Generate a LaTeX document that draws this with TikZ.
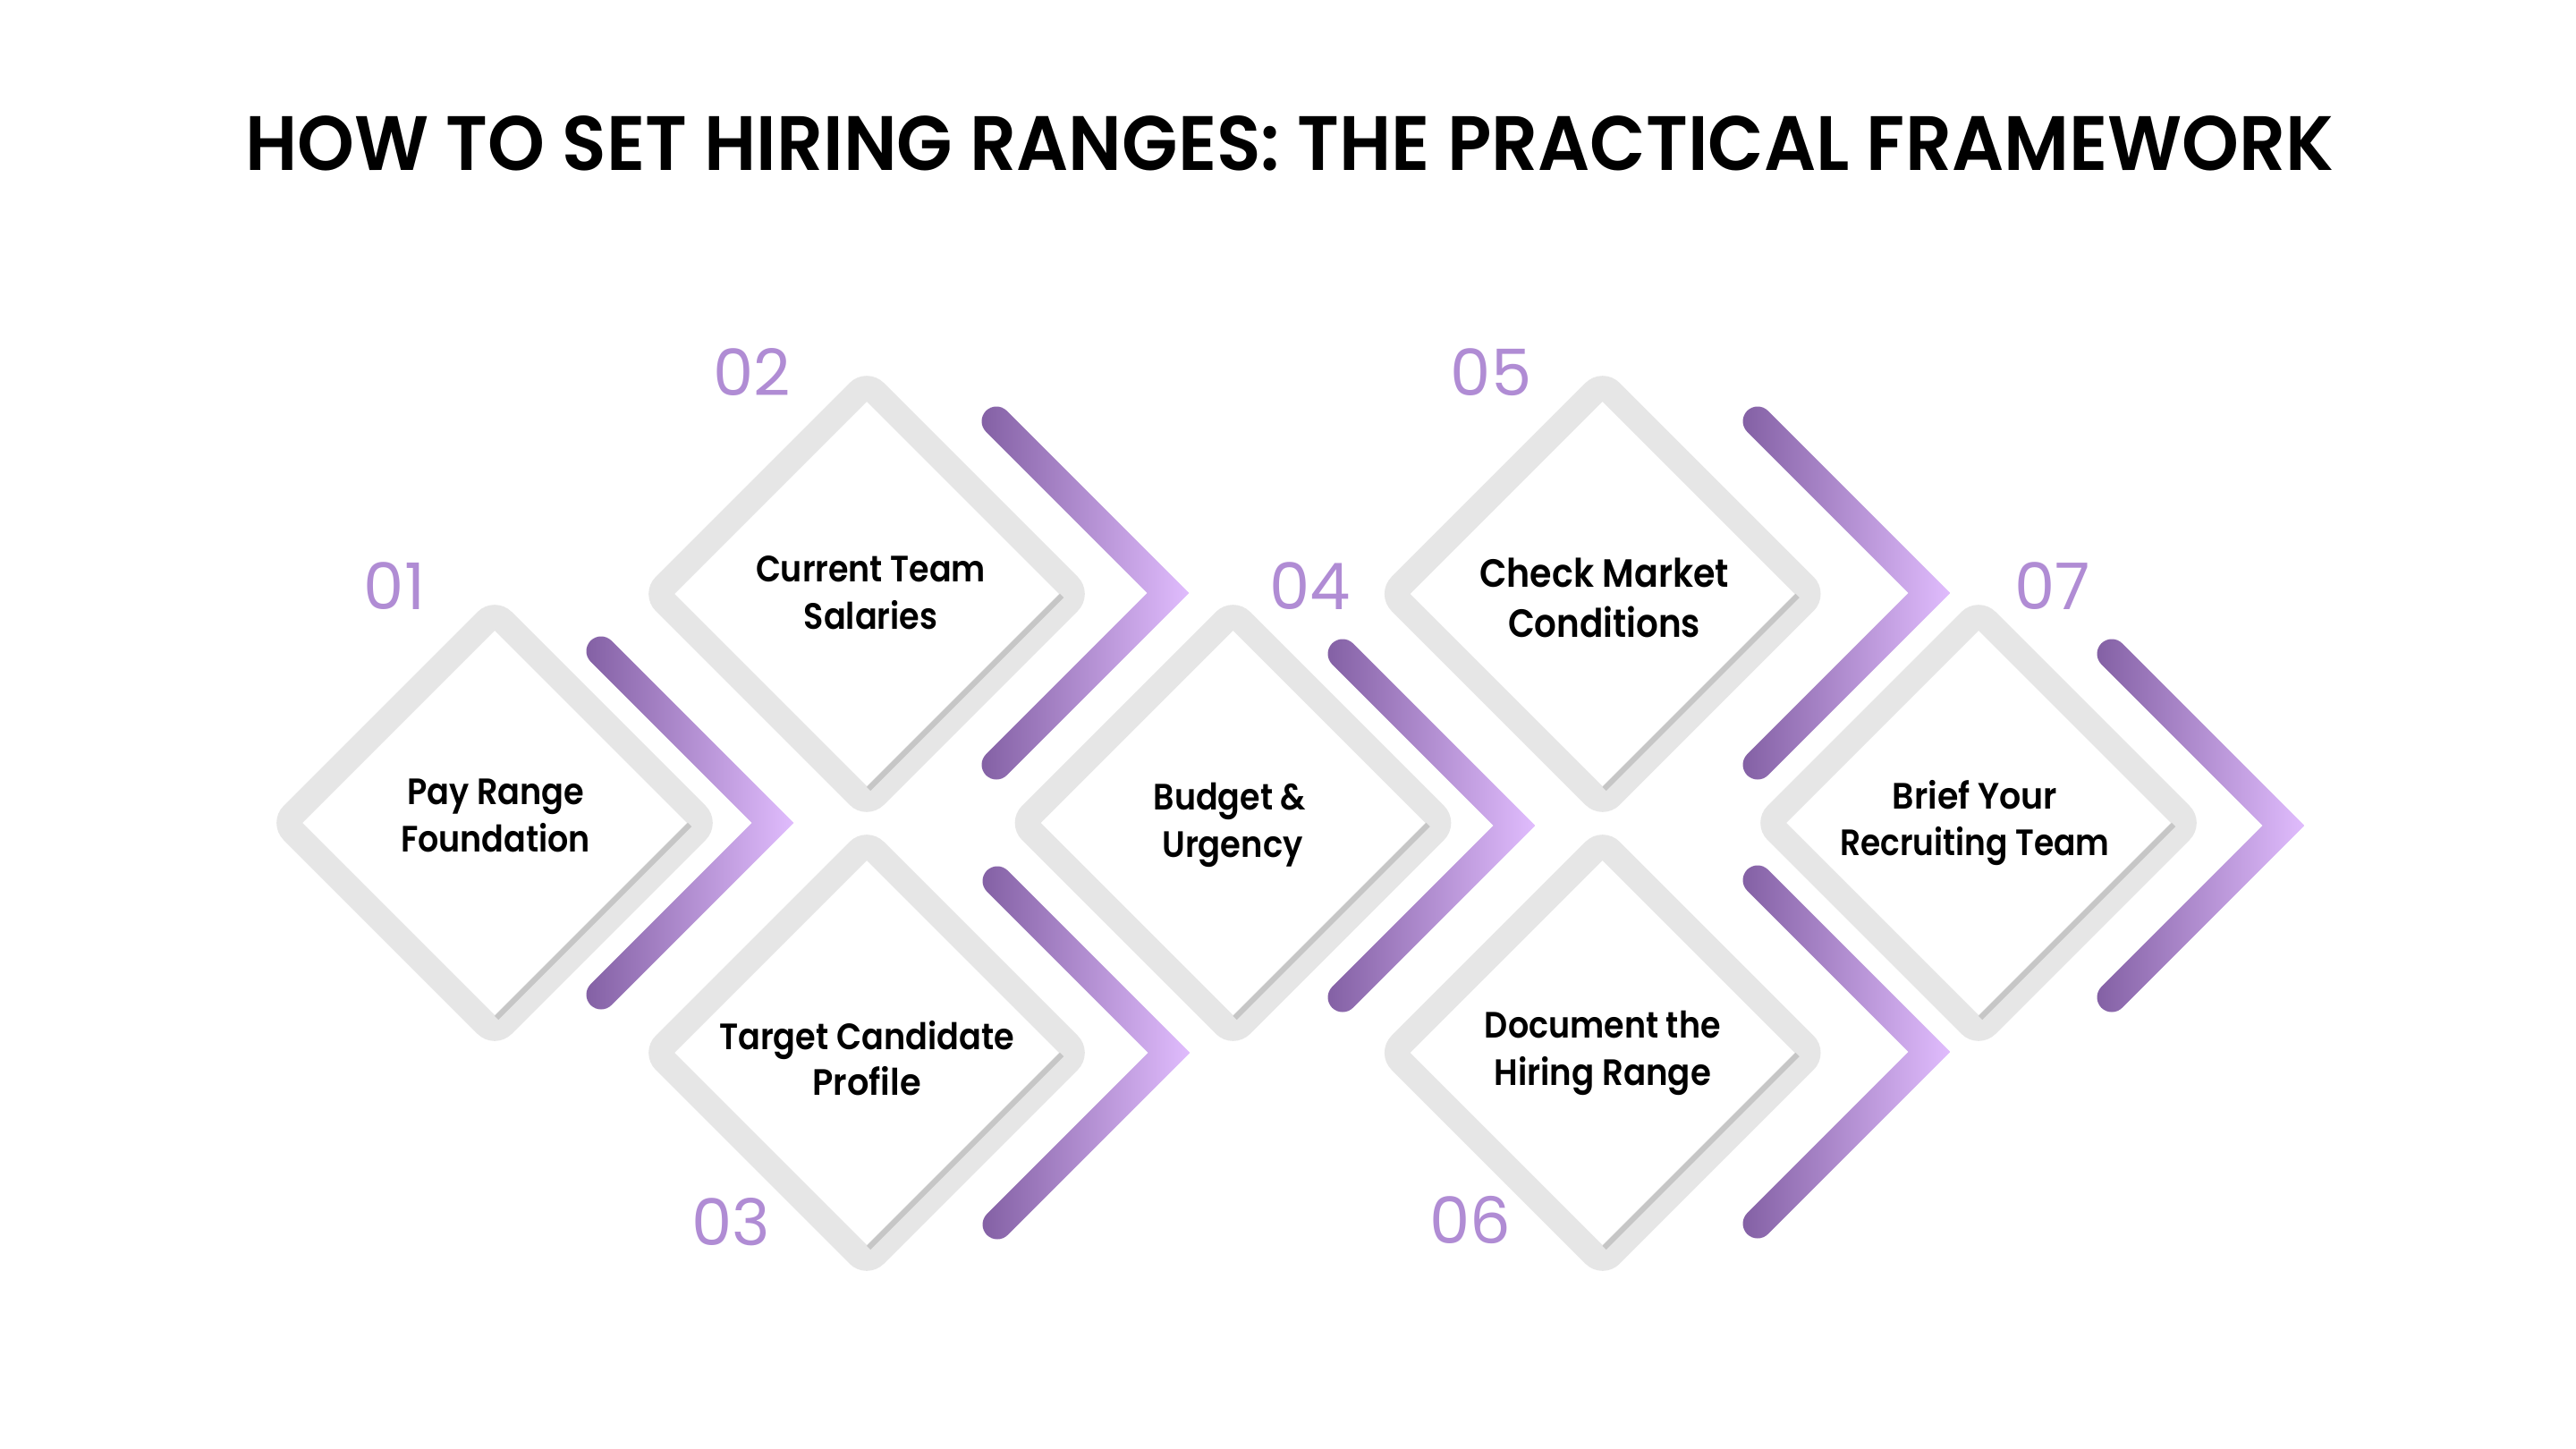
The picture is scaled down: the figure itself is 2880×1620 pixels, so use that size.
\documentclass[tikz,border=0pt]{standalone}
\usepackage{fontspec}
\usepackage{graphicx}
\usetikzlibrary{calc}
\setmainfont{Poppins}
\IfFontExistsTF{Poppins SemiBold}{\newfontfamily\lblfont{Poppins SemiBold}}{\newfontfamily\lblfont{Poppins}[FakeBold=0.6]}
\IfFontExistsTF{Poppins SemiBold}{\newfontfamily\ttlfont{Poppins SemiBold}}{\newcommand\ttlfont{\bfseries}}
\newfontfamily\numfont{Poppins}
\definecolor{bandgray}{HTML}{E6E6E6}
\definecolor{shadgray}{HTML}{C6C6C6}
\definecolor{chevL}{HTML}{8360A4}
\definecolor{chevR}{HTML}{E0BCFD}
\definecolor{numc}{HTML}{B08CD4}
\tikzset{
  band/.style={fill=bandgray, even odd rule},
  shadowline/.style={draw=shadgray, line width=3pt, line cap=butt},
  chevron/.style={left color=chevL, right color=chevR},
  lbl/.style={font=\lblfont\fontsize{20.5}{24}\selectfont, anchor=base, inner sep=0pt, text=black},
  lblbig/.style={font=\lblfont\fontsize{22}{26}\selectfont, anchor=base, inner sep=0pt, text=black},
  num/.style={font=\numfont\fontsize{36}{40}\selectfont, anchor=base, inner sep=0pt, text=numc},
  ttl/.style={anchor=base west, inner sep=0pt, text=black}
}
\newcommand{\Diamd}[1]{%
  \fill[band, rounded corners=13.5pt]
    ($(#1)+(127.5,127.5)$) -- ($(#1)+(255,0)$) -- ($(#1)+(0,-255)$) -- ($(#1)+(-255,0)$) -- ($(#1)+(0,255)$) -- cycle
    [sharp corners] ($(#1)+(0,215)$) -- ($(#1)+(215,0)$) -- ($(#1)+(0,-215)$) -- ($(#1)+(-215,0)$) -- cycle;
  \draw[shadowline] ($(#1)+(218,-2)$) -- ($(#1)+(2,-218)$);
}
\newcommand{\Chev}[1]{%
  \shade[chevron] ($(#1)+(-180.33,203.67)$) -- ($(#1)+(23.33,0)$) -- ($(#1)+(-180.33,-203.67)$)
    arc[start angle=-45, end angle=-225, radius=16.5]
    -- ($(#1)+(-23.33,0)$) -- ($(#1)+(-203.67,180.33)$)
    arc[start angle=-135, end angle=-315, radius=16.5] -- cycle;
}
\begin{document}
\begin{tikzpicture}[x=0.5pt, y=0.5pt]
  \fill[white] (0,0) rectangle (2880,-1620);
  \useasboundingbox (0,0) rectangle (2880,-1620);

  % diamond centres
  \coordinate (d1) at (553,-920);
  \coordinate (d2) at (969,-664);
  \coordinate (d3) at (969,-1177);
  \coordinate (d4) at (1378.5,-920);
  \coordinate (d5) at (1791.7,-664);
  \coordinate (d6) at (1791.7,-1177);
  \coordinate (d7) at (2212,-920);
  % chevron tips
  \coordinate (c1) at (864,-920);
  \coordinate (c2) at (1306,-663);
  \coordinate (c3) at (1307,-1177);
  \coordinate (c4) at (1693,-923);
  \coordinate (c5) at (2157,-663);
  \coordinate (c6) at (2157,-1176);
  \coordinate (c7) at (2553,-923);

  \Diamd{d1}\Diamd{d2}\Diamd{d3}\Diamd{d4}\Diamd{d5}\Diamd{d6}\Diamd{d7}
  \Chev{c1}\Chev{c2}\Chev{c3}\Chev{c4}\Chev{c5}\Chev{c6}\Chev{c7}

  % title
  \node[ttl] (title) at (273.8,-190.8) {\resizebox{1167.5pt}{30.5pt}{\ttlfont HOW TO SET HIRING RANGES: THE PRACTICAL FRAMEWORK}};

  % numbers
  \node[num] (n1) at (441,-681) {01};
  \node[num] (n2) at (841,-443) {02};
  \node[num] (n3) at (817,-1392) {03};
  \node[num] (n4) at (1465,-681) {04};
  \node[num] (n5) at (1667,-443) {05};
  \node[num] (n6) at (1643.5,-1390) {06};
  \node[num] (n7) at (2295,-681) {07};

  % labels
  \node[lbl] (l1a) at (554,-899.5) {\resizebox{99pt}{\height}{Pay Range}};
  \node[lbl] (l1b) at (554,-952) {\resizebox{106pt}{\height}{Foundation}};
  \node[lbl] (l2a) at (973.5,-650.4) {\resizebox{128.5pt}{\height}{Current Team}};
  \node[lbl] (l2b) at (973.5,-703.2) {\resizebox{74.7pt}{\height}{Salaries}};
  \node[lbl] (l3a) at (969,-1173.1) {\resizebox{164.8pt}{\height}{Target Candidate}};
  \node[lbl] (l3b) at (969,-1224.7) {\resizebox{60.7pt}{\height}{Profile}};
  \node[lbl] (l4a) at (1375,-905.3) {\resizebox{85.2pt}{\height}{Budget \&}};
  \node[lbl] (l4b) at (1378,-958.4) {\resizebox{78.7pt}{\height}{Urgency}};
  \node[lblbig] (l5a) at (1793.6,-656.9) {\resizebox{139.3pt}{\height}{Check Market}};
  \node[lblbig] (l5b) at (1793.6,-712.9) {\resizebox{107.5pt}{\height}{Conditions}};
  \node[lbl] (l6a) at (1791.8,-1160.5) {\resizebox{131.9pt}{\height}{Document the}};
  \node[lbl] (l6b) at (1791.8,-1213.5) {\resizebox{121.2pt}{\height}{Hiring Range}};
  \node[lbl] (l7a) at (2208,-904.1) {\resizebox{92.3pt}{\height}{Brief Your}};
  \node[lbl] (l7b) at (2208,-956.3) {\resizebox{150.5pt}{\height}{Recruiting Team}};
\end{tikzpicture}
\end{document}
